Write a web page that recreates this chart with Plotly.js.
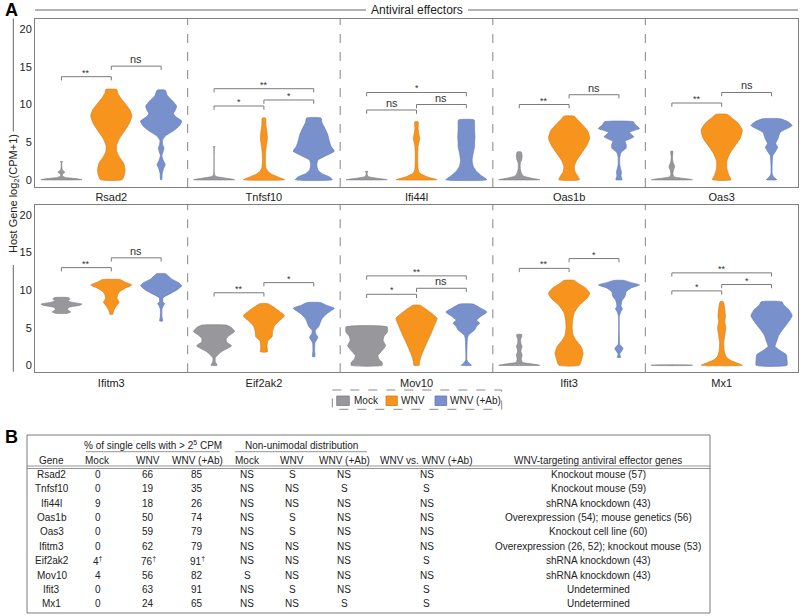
<!DOCTYPE html>
<html>
<head>
<meta charset="utf-8">
<script src="https://cdn.plot.ly/plotly-3.0.1.min.js"></script>
<style>html,body{margin:0;padding:0;background:#fff;}#chart{width:800px;height:616px;}</style>
</head>
<body>
<div id="chart"></div>
<script>
// ---------------- DATA ----------------
const genesTop = ['Rsad2', 'Tnfsf10', 'Ifi44l', 'Oas1b', 'Oas3'];
const genesBottom = ['Ifitm3', 'Eif2ak2', 'Mov10', 'Ifit3', 'Mx1'];
const conditions = ['Mock', 'WNV', 'WNV (+Ab)'];
const yTicks = [0, 5, 10, 15, 20];

// violin density profiles: [log2(CPM+1) level, relative density width]
const rsad2Mock = [[0,1.0],[0.15,0.7],[0.3,0.2],[0.5,0.04],[0.8,0.06],[1.0,0.17],[1.25,0.05],[1.6,0.02],[2.3,0.02],[2.4,0.06]];
const rsad2WNV = [[0,0.52],[0.5,0.62],[1.3,0.67],[2.2,0.6],[3.0,0.4],[3.7,0.27],[4.5,0.25],[5.5,0.4],[6.5,0.65],[7.5,0.88],[8.5,1.0],[9.3,0.9],[10.2,0.65],[11.0,0.42],[11.6,0.3],[12.0,0.27]];
const rsad2Ab = [[0,0.03],[0.8,0.05],[1.5,0.12],[2.0,0.2],[2.6,0.1],[3.2,0.04],[3.8,0.1],[4.2,0.14],[4.6,0.08],[5.2,0.06],[5.8,0.2],[6.5,0.6],[7.2,0.9],[7.8,1.0],[8.4,0.7],[8.8,0.6],[9.3,0.7],[9.8,0.75],[10.5,0.55],[11.2,0.3],[11.9,0.2]];
const tnfsf10Mock = [[0,1.0],[0.2,0.6],[0.4,0.15],[0.6,0.03],[4.3,0.02],[4.4,0.05]];
const tnfsf10WNV = [[0,1.0],[0.3,0.75],[0.7,0.4],[1.1,0.2],[1.6,0.1],[2.5,0.07],[3.5,0.08],[4.5,0.12],[5.5,0.17],[6.3,0.15],[7.2,0.1],[8.2,0.08]];
const tnfsf10Ab = [[0,0.9],[0.4,0.75],[0.8,0.4],[1.3,0.2],[2.0,0.15],[2.6,0.2],[3.2,0.6],[3.8,1.0],[4.4,0.85],[5.2,0.75],[6.0,0.68],[6.8,0.55],[7.6,0.4],[8.2,0.35]];
const ifi44lMock = [[0,1.0],[0.2,0.5],[0.4,0.1],[0.6,0.03],[1.0,0.03],[1.1,0.07]];
const ifi44lWNV = [[0,1.0],[0.2,0.75],[0.4,0.5],[0.85,0.16],[1.4,0.08],[2.5,0.06],[3.5,0.06],[4.5,0.08],[5.0,0.12],[5.5,0.16],[6.0,0.12],[6.8,0.08],[7.7,0.08]];
const ifi44lAb = [[0,1.0],[0.5,0.75],[1.1,0.5],[1.8,0.33],[2.6,0.28],[3.5,0.33],[4.4,0.4],[5.0,0.4],[5.7,0.42],[6.5,0.4],[7.3,0.4],[7.95,0.38]];
const oas1bMock = [[0,1.0],[0.2,0.6],[0.5,0.2],[0.9,0.1],[1.5,0.05],[2.2,0.05],[2.7,0.12],[3.2,0.14],[3.7,0.1]];
const oas1bWNV = [[0,0.5],[0.5,0.42],[1.0,0.3],[1.7,0.25],[2.5,0.35],[3.5,0.6],[4.5,0.85],[5.5,1.0],[6.5,0.9],[7.3,0.65],[8.0,0.4],[8.45,0.25]];
const oas1bAb = [[0,0.15],[0.5,0.1],[1.0,0.12],[1.5,0.08],[2.0,0.04],[3.0,0.04],[3.6,0.1],[4.2,0.35],[4.7,0.35],[5.1,0.3],[5.7,0.72],[6.3,0.5],[6.8,1.0],[7.3,0.8],[7.7,0.7]];
const oas3Mock = [[0,1.0],[0.2,0.5],[0.4,0.1],[0.8,0.05],[1.3,0.08],[1.8,0.14],[2.3,0.06],[3.0,0.03],[3.8,0.05]];
const oas3WNV = [[0,0.45],[0.6,0.35],[1.5,0.25],[2.5,0.25],[3.5,0.4],[4.5,0.65],[5.5,0.9],[6.6,1.0],[7.5,0.8],[8.2,0.5],[8.7,0.27]];
const oas3Ab = [[0,0.25],[0.4,0.1],[0.8,0.03],[2.0,0.03],[3.2,0.06],[3.8,0.2],[4.3,0.3],[4.8,0.2],[5.5,0.32],[6.3,0.42],[7.2,1.0],[7.7,0.8],[8.1,0.45]];

const ifitm3Mock = [[6.9,0.25],[7.1,0.45],[7.4,0.3],[7.7,0.35],[8.0,0.9],[8.15,1.0],[8.4,0.5],[8.6,0.3],[8.8,0.42],[9.0,0.35]];
const ifitm3WNV = [[6.8,0.07],[7.3,0.12],[7.8,0.22],[8.4,0.38],[8.9,0.28],[9.3,0.3],[9.8,0.4],[10.3,0.7],[10.7,1.0],[11.1,0.65],[11.4,0.45]];
const ifitm3Ab = [[5.9,0.07],[6.5,0.04],[7.5,0.04],[8.0,0.12],[8.2,0.17],[8.5,0.08],[9.0,0.1],[9.4,0.35],[10.0,0.75],[10.6,1.0],[11.0,0.85],[11.5,0.5],[12.0,0.3],[12.2,0.2]];
const eif2ak2Mock = [[0,0.15],[0.5,0.06],[1.0,0.06],[1.8,0.35],[2.6,0.85],[3.1,0.6],[3.6,0.6],[4.1,0.8],[4.5,1.0],[5.0,0.85],[5.35,0.6]];
const eif2ak2WNV = [[1.8,0.17],[2.5,0.15],[3.3,0.2],[3.8,0.4],[4.5,0.42],[5.2,0.5],[5.8,0.7],[6.6,1.0],[7.2,0.75],[7.8,0.45],[8.2,0.2]];
const eif2ak2Ab = [[1.15,0.06],[2.0,0.04],[3.0,0.06],[3.7,0.2],[4.2,0.1],[4.6,0.07],[5.2,0.25],[5.7,0.32],[6.2,0.4],[6.9,0.65],[7.6,1.0],[8.0,0.6],[8.35,0.33]];
const mov10Mock = [[0,0.75],[0.4,0.75],[0.8,0.6],[1.3,0.55],[1.8,0.7],[2.6,0.92],[3.3,0.8],[3.9,0.85],[4.4,1.0],[5.1,1.0]];
const mov10WNV = [[0,0.13],[0.5,0.15],[1.4,0.25],[2.7,0.45],[3.6,0.6],[4.5,0.75],[5.5,0.9],[6.25,1.0],[7.0,0.7],[7.6,0.4],[8.0,0.17]];
const mov10Ab = [[0,0.25],[0.3,0.13],[0.7,0.03],[2.0,0.03],[3.5,0.05],[4.0,0.1],[4.7,0.4],[5.2,0.5],[5.6,0.65],[6.0,0.5],[6.5,0.7],[7.1,1.0],[7.6,0.7],[8.15,0.33]];
const ifit3Mock = [[0,1.0],[0.2,0.6],[0.4,0.15],[0.8,0.1],[1.1,0.12],[1.4,0.14],[1.8,0.08],[2.2,0.1],[2.5,0.14],[2.9,0.08],[3.5,0.07],[3.8,0.12],[4.1,0.12]];
const ifit3WNV = [[0,0.5],[0.7,0.6],[1.6,0.68],[2.5,0.58],[3.3,0.35],[4.0,0.2],[5.0,0.15],[6.0,0.17],[7.0,0.25],[8.0,0.5],[9.0,0.9],[9.6,1.0],[10.3,0.8],[10.9,0.45],[11.3,0.25]];
const ifit3Ab = [[1.05,0.08],[1.5,0.04],[2.25,0.2],[2.8,0.04],[4.0,0.02],[6.5,0.02],[7.2,0.1],[7.5,0.17],[7.9,0.1],[8.6,0.15],[9.2,0.3],[9.8,0.35],[10.3,0.6],[10.7,1.0],[11.0,0.6],[11.3,0.25]];
const mx1Mock = [[0,1.0],[0.03,1.0]];
const mx1WNV = [[0,1.0],[0.3,0.75],[0.7,0.4],[1.2,0.2],[2.0,0.12],[3.0,0.1],[4.0,0.15],[5.0,0.2],[5.8,0.15],[6.5,0.18],[7.5,0.15],[8.3,0.1],[8.5,0.06]];
const mx1Ab = [[0,0.75],[0.7,0.75],[1.4,0.72],[2.0,0.4],[2.5,0.17],[3.2,0.25],[4.0,0.35],[4.8,0.55],[5.5,0.75],[6.6,1.0],[7.4,0.85],[8.0,0.6],[8.45,0.5]];

// significance brackets: [condition a, condition b, height, label]
const sigRsad2 = [[0,1,13.7,'**'],[1,2,15.1,'ns']];
const sigTnfsf10 = [[0,1,9.8,'*'],[1,2,10.6,'*'],[0,2,12.1,'**']];
const sigIfi44l = [[0,1,9.27,'ns'],[1,2,10.0,'ns'],[0,2,11.6,'*']];
const sigOas1b = [[0,1,10.0,'**'],[1,2,11.3,'ns']];
const sigOas3 = [[0,1,10.2,'**'],[1,2,11.6,'ns']];
const sigIfitm3 = [[0,1,13.0,'**'],[1,2,14.3,'ns']];
const sigEif2ak2 = [[0,1,9.65,'**'],[1,2,11.0,'*']];
const sigMov10 = [[0,1,9.45,'*'],[1,2,10.25,'ns'],[0,2,11.9,'**']];
const sigIfit3 = [[0,1,12.9,'**'],[1,2,14.2,'*']];
const sigMx1 = [[0,1,9.9,'*'],[1,2,10.75,'*'],[0,2,12.3,'**']];

// table B
const tableGenes = ['Rsad2','Tnfsf10','Ifi44l','Oas1b','Oas3','Ifitm3','Eif2ak2','Mov10','Ifit3','Mx1'];
const pctMock = ['0','0','9','0','0','0','4<sup>†</sup>','4','0','0'];
const pctWNV = ['66','19','18','50','59','62','76<sup>†</sup>','56','63','24'];
const pctAb = ['85','35','26','74','79','79','91<sup>†</sup>','82','91','65'];
const uniMock = ['NS','NS','NS','NS','NS','NS','NS','S','NS','NS'];
const uniWNV = ['S','NS','NS','S','S','NS','NS','NS','S','NS'];
const uniAb = ['NS','S','NS','NS','NS','NS','NS','NS','NS','S'];
const wnvVsAb = ['NS','S','NS','NS','NS','NS','S','NS','S','S'];
const effectorEvidence = ['Knockout mouse (57)','Knockout mouse (59)','shRNA knockdown (43)','Overexpression (54); mouse genetics (56)','Knockout cell line (60)','Overexpression (26, 52); knockout mouse (53)','shRNA knockdown (43)','shRNA knockdown (43)','Undetermined','Undetermined'];

// ---------------- STYLE ----------------
const FONT = 'Arial, "Liberation Sans", Helvetica, sans-serif';
const fills = ['#98989c', '#f7941d', '#7891cd'];
const strokes = ['#7c7c80', '#d07b17', '#6077b5'];
const groupWidth = 3, offset = 0.98, halfMax = 0.405;
const W = 800, H = 616;
const px = x => x / W, py = y => 1 - y / H;

const profilesTop = [[rsad2Mock,rsad2WNV,rsad2Ab],[tnfsf10Mock,tnfsf10WNV,tnfsf10Ab],[ifi44lMock,ifi44lWNV,ifi44lAb],[oas1bMock,oas1bWNV,oas1bAb],[oas3Mock,oas3WNV,oas3Ab]];
const profilesBottom = [[ifitm3Mock,ifitm3WNV,ifitm3Ab],[eif2ak2Mock,eif2ak2WNV,eif2ak2Ab],[mov10Mock,mov10WNV,mov10Ab],[ifit3Mock,ifit3WNV,ifit3Ab],[mx1Mock,mx1WNV,mx1Ab]];
const sigTop = [sigRsad2,sigTnfsf10,sigIfi44l,sigOas1b,sigOas3];
const sigBottom = [sigIfitm3,sigEif2ak2,sigMov10,sigIfit3,sigMx1];

const traces = [];
const annotations = [];
const shapes = [];
const centers = genesTop.map((g, i) => i * groupWidth + groupWidth / 2);

function addPanel(profiles, sigs, xa, ya) {
  profiles.forEach((grp, gi) => {
    const gc = centers[gi];
    grp.forEach((prof, ci) => {
      const c = gc + (ci - 1) * offset;
      const xs = [], ys = [];
      prof.forEach(p => { xs.push(c + p[1] * halfMax); ys.push(p[0]); });
      for (let k = prof.length - 1; k >= 0; k--) { xs.push(c - prof[k][1] * halfMax); ys.push(prof[k][0]); }
      xs.push(xs[0]); ys.push(ys[0]);
      traces.push({
        type: 'scatter', mode: 'lines', x: xs, y: ys, xaxis: xa, yaxis: ya,
        fill: 'toself', fillcolor: fills[ci],
        line: {color: strokes[ci], width: 0.6, shape: 'spline', smoothing: 0.5},
        hoverinfo: 'skip', showlegend: false
      });
    });
    sigs[gi].forEach(s => {
      const x0 = gc + (s[0] - 1) * offset, x1 = gc + (s[1] - 1) * offset, h = s[2];
      traces.push({
        type: 'scatter', mode: 'lines', x: [x0, x0, x1, x1], y: [h - 0.5, h, h, h - 0.5],
        xaxis: xa, yaxis: ya, line: {color: '#7a7a7a', width: 1}, hoverinfo: 'skip', showlegend: false
      });
      const isNs = s[3] === 'ns';
      annotations.push({
        xref: xa, yref: ya, x: (x0 + x1) / 2, y: h, text: s[3], showarrow: false,
        yanchor: 'bottom', yshift: isNs ? -1 : -3,
        font: {family: FONT, size: isNs ? 11 : 9, color: '#333'}
      });
    });
  });
  for (let k = 1; k < 5; k++) {
    shapes.push({type: 'line', xref: xa, yref: ya + ' domain', x0: k * groupWidth, x1: k * groupWidth, y0: 0, y1: 1,
      line: {color: '#9a9a9a', width: 1.2, dash: 'dash'}});
  }
}
addPanel(profilesTop, sigTop, 'x', 'y');
addPanel(profilesBottom, sigBottom, 'x2', 'y2');

// headers
annotations.push({xref: 'paper', yref: 'paper', x: px(3), y: py(10), xanchor: 'left', yanchor: 'middle', text: '<b>A</b>', showarrow: false, font: {family: FONT, size: 18, color: '#000'}});
annotations.push({xref: 'paper', yref: 'paper', x: px(3), y: py(437), xanchor: 'left', yanchor: 'middle', text: '<b>B</b>', showarrow: false, font: {family: FONT, size: 18, color: '#000'}});
annotations.push({xref: 'paper', yref: 'paper', x: px(416.5), y: py(10), xanchor: 'center', yanchor: 'middle', text: 'Antiviral effectors', showarrow: false, font: {family: FONT, size: 12, color: '#222'}});
shapes.push({type: 'line', xref: 'paper', yref: 'paper', x0: px(35), x1: px(366), y0: py(10), y1: py(10), line: {color: '#666', width: 1}});
shapes.push({type: 'line', xref: 'paper', yref: 'paper', x0: px(468), x1: px(798), y0: py(10), y1: py(10), line: {color: '#666', width: 1}});
annotations.push({xref: 'paper', yref: 'paper', x: px(14), y: py(194), xanchor: 'center', yanchor: 'middle', textangle: -90, text: 'Host Gene log<sub>2</sub>(CPM+1)', showarrow: false, font: {family: FONT, size: 11, color: '#222'}});
shapes.push({type: 'line', xref: 'paper', yref: 'paper', x0: px(13.3), x1: px(13.3), y0: py(18.5), y1: py(131.5), line: {color: '#666', width: 1}});
shapes.push({type: 'line', xref: 'paper', yref: 'paper', x0: px(13.3), x1: px(13.3), y0: py(265), y1: py(371.7), line: {color: '#666', width: 1}});

// legend
shapes.push({type: 'rect', xref: 'paper', yref: 'paper', x0: px(332.3), x1: px(501.7), y0: py(390), y1: py(409.3), line: {color: '#8a8a8a', width: 1, dash: 'dash'}});
const legendSw = [[336.7, 349.3], [386, 397.3], [435, 446.7]];
const legendTx = [351.5, 399.3, 448.3];
conditions.forEach((c, i) => {
  shapes.push({type: 'rect', xref: 'paper', yref: 'paper', x0: px(legendSw[i][0]), x1: px(legendSw[i][1]), y0: py(396), y1: py(405.5), fillcolor: fills[i], line: {color: strokes[i], width: 0.8}});
  annotations.push({xref: 'paper', yref: 'paper', x: px(legendTx[i]), y: py(400.7), xanchor: 'left', yanchor: 'middle', text: c, showarrow: false, font: {family: FONT, size: 10, color: '#222'}});
});

// table
const tl = 27, tr = 710, tt = 435, tb = 613;
shapes.push({type: 'rect', xref: 'paper', yref: 'paper', x0: px(tl), x1: px(tr), y0: py(tt), y1: py(tb), line: {color: '#7a7a7a', width: 1}});
shapes.push({type: 'line', xref: 'paper', yref: 'paper', x0: px(tl), x1: px(tr), y0: py(466), y1: py(466), line: {color: '#7a7a7a', width: 0.8}});
shapes.push({type: 'line', xref: 'paper', yref: 'paper', x0: px(tl), x1: px(tr), y0: py(468.5), y1: py(468.5), line: {color: '#7a7a7a', width: 0.8}});
shapes.push({type: 'line', xref: 'paper', yref: 'paper', x0: px(86), x1: px(220), y0: py(451.7), y1: py(451.7), line: {color: '#7a7a7a', width: 0.8}});
shapes.push({type: 'line', xref: 'paper', yref: 'paper', x0: px(235), x1: px(367), y0: py(451.7), y1: py(451.7), line: {color: '#7a7a7a', width: 0.8}});
const colX = [51.5, 97.7, 148, 197, 247, 292, 344, 427, 598];
const tf = {family: FONT, size: 10, color: '#222'};
function cell(x, y, t) {
  annotations.push({xref: 'paper', yref: 'paper', x: px(x), y: py(y), xanchor: 'center', yanchor: 'middle', text: t, showarrow: false, font: tf});
}
cell(153, 445.3, '% of single cells with > 2<sup>5</sup> CPM');
cell(301, 445.3, 'Non-unimodal distribution');
const header2 = ['Gene', 'Mock', 'WNV', 'WNV (+Ab)', 'Mock', 'WNV', 'WNV (+Ab)', 'WNV vs. WNV (+Ab)', 'WNV-targeting antiviral effector genes'];
header2.forEach((h, i) => cell(colX[i], 460, h));
const cols = [tableGenes, pctMock, pctWNV, pctAb, uniMock, uniWNV, uniAb, wnvVsAb, effectorEvidence];
tableGenes.forEach((g, r) => {
  const y = 474.3 + r * 14.4;
  cols.forEach((col, ci) => cell(colX[ci], y, col[r]));
});

const axisCommon = {
  showline: true, mirror: true, linecolor: '#808080', linewidth: 1, ticks: '', showgrid: false, zeroline: false,
  tickfont: {family: FONT, size: 11, color: '#222'}, fixedrange: true
};
const layout = {
  width: W, height: H, margin: {l: 0, r: 0, t: 0, b: 0},
  paper_bgcolor: '#fff', plot_bgcolor: '#fff', showlegend: false,
  font: {family: FONT, color: '#222'},
  xaxis: Object.assign({}, axisCommon, {domain: [px(35), px(798)], range: [0, 15], tickvals: centers, ticktext: genesTop, anchor: 'y'}),
  yaxis: Object.assign({}, axisCommon, {domain: [py(187), py(19)], range: [-0.97, 21.37], tickvals: yTicks, anchor: 'x'}),
  xaxis2: Object.assign({}, axisCommon, {domain: [px(35), px(798)], range: [0, 15], tickvals: centers, ticktext: genesBottom, anchor: 'y2'}),
  yaxis2: Object.assign({}, axisCommon, {domain: [py(372.3), py(205)], range: [-0.93, 21.33], tickvals: yTicks, anchor: 'x2'}),
  annotations: annotations, shapes: shapes
};
Plotly.newPlot('chart', traces, layout, {staticPlot: true, displayModeBar: false});
</script>
</body>
</html>
